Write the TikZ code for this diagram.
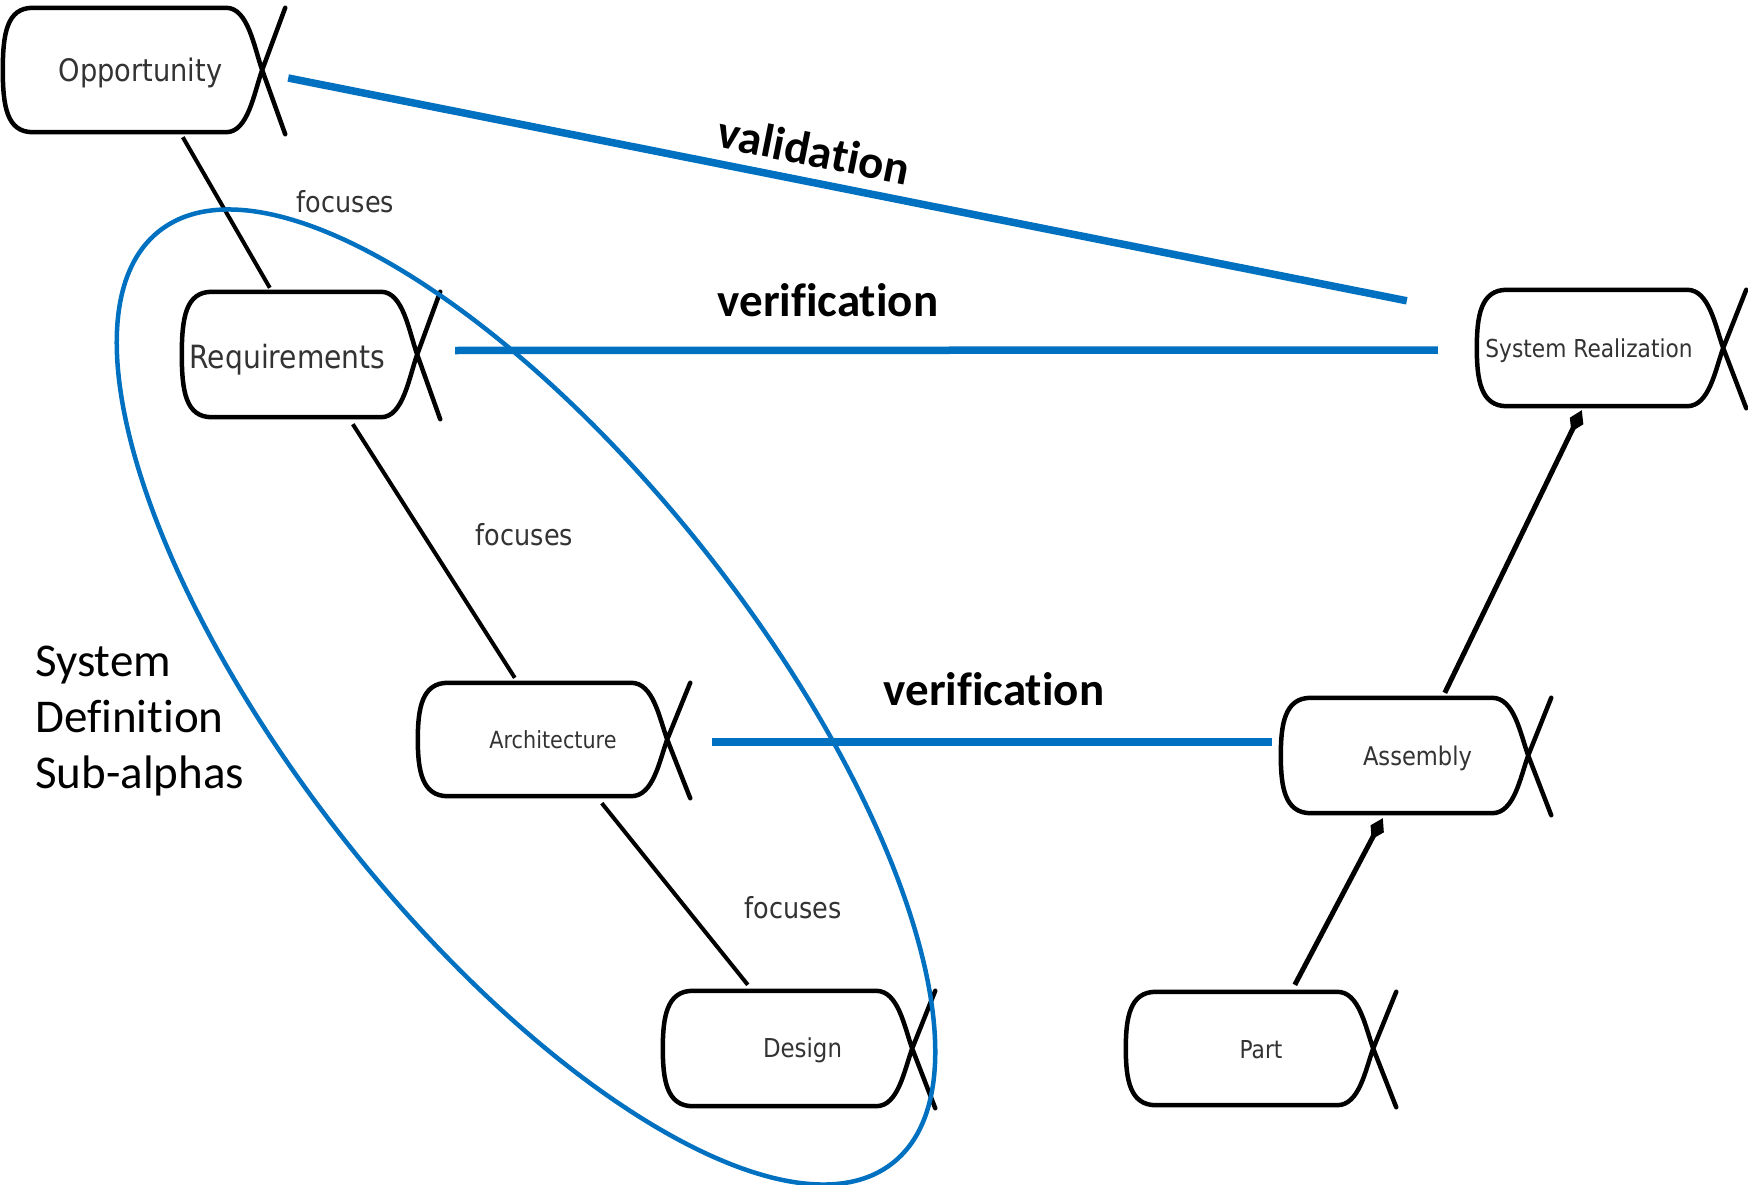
\documentclass[tikz,border=0pt]{standalone}
\usepackage{fontspec}
\setmainfont{Carlito}[Ligatures=NoCommon]
\newfontfamily\alphafont{DejaVu Sans}[FakeStretch=0.88]
\usetikzlibrary{arrows.meta,calc}
\definecolor{ppblue}{HTML}{0070C0}
\definecolor{labelgray}{HTML}{333333}

% Essence alpha symbol: rounded body ending in a crossed "fish tail"
\newcommand\alphaoutline[1]{%
  \draw[alphaline] let \p1=(#1.north west), \p2=(#1.south east), \n1={0.5*(\y1+\y2)} in
    (\x1+30pt,\y1) -- (\x2-36pt,\y1)
      .. controls (\x2-14pt,\y1) and (\x2-8pt,\n1+22pt) .. (\x2,\n1) -- (\x2+23pt,\y2-2pt)
    (\x1+30pt,\y2) -- (\x2-36pt,\y2)
      .. controls (\x2-14pt,\y2) and (\x2-8pt,\n1-22pt) .. (\x2,\n1) -- (\x2+23pt,\y1)
    (\x1+30pt,\y1) .. controls (\x1+4pt,\y1) and (\x1,\y1-26pt) .. (\x1,\n1)
      .. controls (\x1,\y2+26pt) and (\x1+4pt,\y2) .. (\x1+30pt,\y2);
}

\begin{document}
\begin{tikzpicture}[x=1pt,y=-1pt,
  alphabody/.style={rectangle, draw=none, inner sep=0pt},
  alphaline/.style={draw=black, line width=4.5pt, line join=round, line cap=round},
  alphatext/.style={anchor=base, inner sep=0pt, text=labelgray, font=\alphafont\fontsize{#1}{#1}\selectfont},
  focusline/.style={draw=black, line width=4pt},
  partline/.style={draw=black, line width=5pt, -{Diamond[length=24pt,width=15pt]}},
  relline/.style={draw=ppblue, line width=7.5pt},
  reltext/.style={inner sep=0pt, font=\fontsize{47}{56}\selectfont\bfseries},
  focustext/.style={anchor=base, inner sep=0pt, text=labelgray, font=\alphafont\fontsize{29}{29}\selectfont},
  groupline/.style={draw=ppblue, line width=4.5pt}
]
\fill[white] (0,0) rectangle (1748,1185);
\useasboundingbox (0,0) rectangle (1748,1185);

% alpha bodies
\node[alphabody, minimum width=259pt, minimum height=124pt] (opp)  at (132.5,70)    {};
\node[alphabody, minimum width=235pt, minimum height=125pt] (req)  at (299.5,354.5) {};
\node[alphabody, minimum width=246pt, minimum height=116pt] (sys)  at (1600,348)    {};
\node[alphabody, minimum width=249pt, minimum height=113pt] (arch) at (542.5,739.5) {};
\node[alphabody, minimum width=247pt, minimum height=115pt] (asm)  at (1404.5,755.5){};
\node[alphabody, minimum width=249pt, minimum height=115pt] (des)  at (787.5,1048.5){};
\node[alphabody, minimum width=247pt, minimum height=113pt] (part) at (1249.5,1048.5){};

\foreach \a in {opp,req,sys,arch,asm,des,part} {\alphaoutline{\a}}

% alpha names
\node[alphatext=31]   (oppname)  at (140.5,82)  {Opportunity};
\node[alphatext=32]   (reqname)  at (287.5,368) {Requirements};
\node[alphatext=24.7] (sysname)  at (1589,357)  {System Realization};
\node[alphatext=23.6] (archname) at (553,748)   {Architecture};
\node[alphatext=25.7] (asmname)  at (1417.5,765){Assembly};
\node[alphatext=26]   (desname)  at (802.5,1057){Design};
\node[alphatext=24.7] (partname) at (1261,1058) {Part};

% "focuses" chain of system definition
\draw[focusline] ($(opp.south west)+(180,5)$)  -- ($(req.north west)+(88,-4)$);
\draw[focusline] ($(req.south west)+(171,7)$)  -- ($(arch.north west)+(97,-5)$);
\draw[focusline] ($(arch.south west)+(184,7)$) -- ($(des.north west)+(85,-6)$);
\node[focustext] (foc1) at (345.5,213) {focuses};
\node[focustext] (foc2) at (524.5,545) {focuses};
\node[focustext] (foc3) at (793,918)   {focuses};

% part-of chain of the system realization
\draw[partline] ($(part.north west)+(169,-7)$) -- ($(asm.south west)+(102,5)$);
\draw[partline] ($(asm.north west)+(164,-5)$)  -- ($(sys.south west)+(105,4)$);

% validation and verification relations
\draw[relline] ($(opp.east)+(26,8)$)     -- ($(sys.north west)+(-70,11)$);
\draw[relline] ($(req.east)+(38,-4)$)    -- ($(sys.west)+(-39,2)$);
\draw[relline] ($(arch.east)+(45,2.5)$)  -- ($(asm.west)+(-9,-13.5)$);
\node[reltext, rotate=-11.3] (val) at (814,150) {validation};
\node[reltext, anchor=base] (ver1) at (828,316) {verification};
\node[reltext, anchor=base] (ver2) at (994,705) {verification};

% grouping of the system definition sub-alphas
\draw[groupline, rotate around={-51.8:(526,697)}] (526,697) ellipse [x radius=593, y radius=231];
\node[anchor=base west, inner sep=0pt, align=left, font=\fontsize{47}{56}\selectfont] (grp) at (35,788)
  {System\\Definition\\Sub-alphas};
\end{tikzpicture}
\end{document}
